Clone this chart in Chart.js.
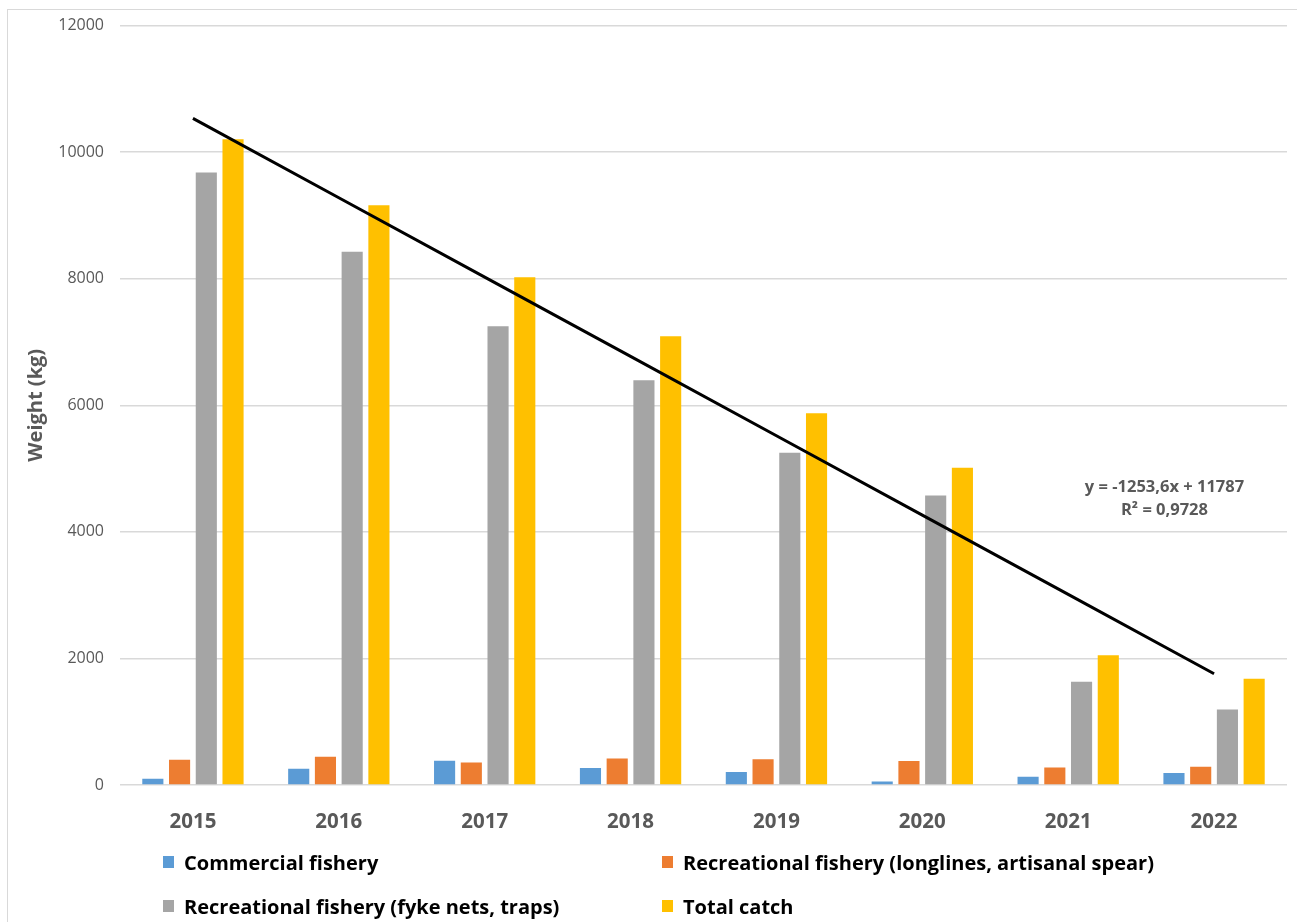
<!DOCTYPE html>
<html>
<head>
<meta charset="utf-8">
<title>Catch by fishery type</title>
<script src="https://cdn.jsdelivr.net/npm/chart.js@4/dist/chart.umd.min.js"></script>
<style>
  html, body { margin: 0; padding: 0; background: #fff; }
  body { width: 1297px; height: 922px; overflow: hidden; position: relative; }
  #frame {
    position: absolute; left: 7px; top: 9px; right: -4px; bottom: -4px;
    border: 1px solid #d9d9d9;
  }
  #chart { position: absolute; left: 0; top: 0; }
  #legend {
    position: absolute; left: 0; top: 0; width: 100%; height: 100%;
    pointer-events: none;
    font-family: "Open Sans", Lato, sans-serif;
    font-weight: bold; font-size: 20px; color: #000;
  }
  .item { position: absolute; display: flex; align-items: center; white-space: nowrap; }
  .swatch { width: 11px; height: 12px; margin-right: 10px; }
</style>
</head>
<body>
<div id="frame"></div>
<canvas id="chart" width="1297" height="922"></canvas>
<div id="legend"></div>

<script>
// Catch weight per year, split by fishery type
const years = ['2015', '2016', '2017', '2018', '2019', '2020', '2021', '2022'];
const commercial = [100, 255, 385, 270, 205, 55, 130, 190];
const recLonglines = [400, 445, 355, 420, 405, 380, 275, 290];
const recFykeNets = [9680, 8425, 7250, 6395, 5250, 4575, 1630, 1195];
const totalCatch = [10205, 9160, 8025, 7090, 5875, 5015, 2050, 1680];

// linear trend of total catch (x = 1 for the first year)
const trendSlope = -1253.6;
const trendIntercept = 11787;
const trendR2 = 0.9728;

const yTicks = [0, 2000, 4000, 6000, 8000, 10000, 12000];

const FONT = '"Open Sans", Lato, sans-serif';
const GREY_TEXT = '#595959';

function fmt(n){ return String(n).replace('.', ','); }

const trendValues = years.map((_, i) => trendSlope * (i + 1) + trendIntercept);

// equation text next to the trend line
const trendLabel = {
  id: 'trendLabel',
  afterDatasetsDraw(chart){
    const {ctx, scales} = chart;
    const x = scales.x.getPixelForValue(6.66);
    const y = scales.y.getPixelForValue(4700);
    ctx.save();
    ctx.fillStyle = GREY_TEXT;
    ctx.font = 'bold 16.5px ' + FONT;
    ctx.textAlign = 'center';
    ctx.textBaseline = 'middle';
    ctx.fillText('y = ' + fmt(trendSlope) + 'x + ' + trendIntercept, x, y);
    ctx.fillText('R² = ' + fmt(trendR2), x, y + 23);
    ctx.restore();
  }
};

const chart = new Chart(document.getElementById('chart').getContext('2d'), {
  type: 'bar',
  data: {
    labels: years,
    datasets: [
      { label: 'Commercial fishery', data: commercial, backgroundColor: '#5b9bd5', order: 1 },
      { label: 'Recreational fishery (longlines, artisanal spear)', data: recLonglines, backgroundColor: '#ed7d31', order: 1 },
      { label: 'Recreational fishery (fyke nets, traps)', data: recFykeNets, backgroundColor: '#a5a5a5', order: 1 },
      { label: 'Total catch', data: totalCatch, backgroundColor: '#ffc000', order: 1 },
      {
        type: 'line', label: 'trend', data: trendValues,
        borderColor: '#000', borderWidth: 3, pointRadius: 0,
        fill: false, tension: 0, order: 0
      }
    ]
  },
  options: {
    responsive: false,
    animation: false,
    layout: { padding: { top: 24, right: 10, bottom: 87, left: 0 } },
    datasets: { bar: { categoryPercentage: 0.733, barPercentage: 0.79 } },
    plugins: { legend: { display: false }, tooltip: { enabled: false } },
    scales: {
      x: {
        grid: { display: false },
        border: { display: false },
        ticks: {
          color: GREY_TEXT, font: { family: FONT, size: 20.5, weight: 'bold' },
          padding: 17, maxRotation: 0, autoSkip: false
        },
        afterFit(s){ s.height = 50; }
      },
      y: {
        min: 0, max: 12000,
        afterBuildTicks(s){ s.ticks = yTicks.map(v => ({ value: v })); },
        grid: { color: '#d9d9d9', lineWidth: 1.5, drawTicks: false },
        border: { display: false },
        ticks: {
          color: GREY_TEXT, font: { family: FONT, size: 16 }, padding: 16,
          callback: v => String(v)
        },
        title: {
          display: true, text: 'Weight (kg)', color: GREY_TEXT,
          font: { family: FONT, size: 20, weight: 'bold' },
          padding: { top: 24, bottom: 0 }
        },
        afterFit(s){ s.width = 120; }
      }
    }
  },
  plugins: [trendLabel]
});

// two-column legend under the plot
const legendPos = [
  { left: 163, top: 862 }, { left: 662, top: 862 },
  { left: 163, top: 906 }, { left: 662, top: 906 }
];
const legendBox = document.getElementById('legend');
chart.data.datasets.slice(0, 4).forEach((ds, i) => {
  const item = document.createElement('div');
  item.className = 'item';
  item.style.left = legendPos[i].left + 'px';
  item.style.top = (legendPos[i].top - 13) + 'px';
  item.style.height = '26px';
  item.innerHTML = '<span class="swatch" style="background:' + ds.backgroundColor + '"></span><span>' + ds.label + '</span>';
  legendBox.appendChild(item);
});
</script>
</body>
</html>
